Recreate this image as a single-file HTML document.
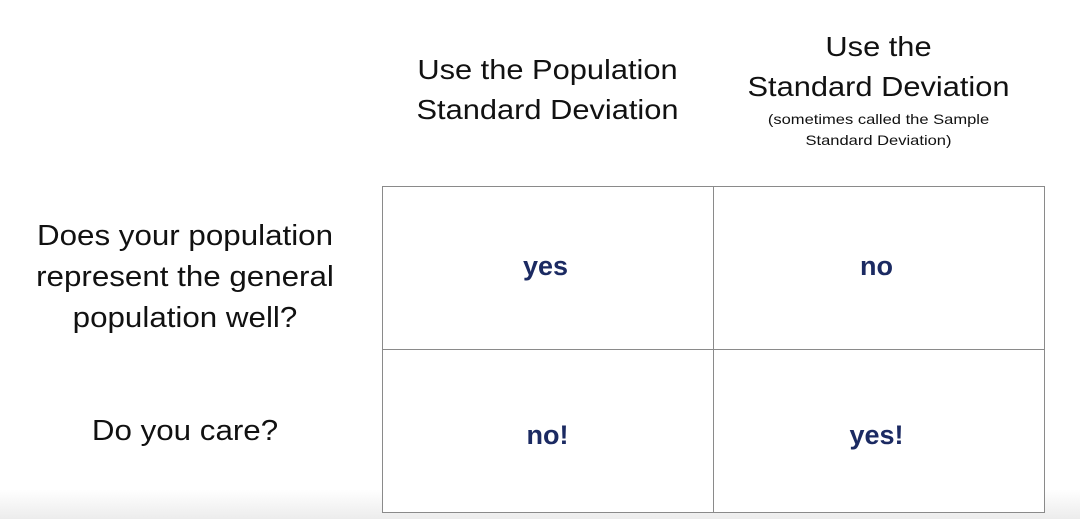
<!DOCTYPE html>
<html><head><meta charset="utf-8"><style>
body{margin:0;width:1080px;height:519px;background:#fff;position:relative;overflow:hidden;font-family:"Liberation Sans",sans-serif;color:#111}
.t{position:absolute;text-align:center;white-space:nowrap}
.h{font-size:28px;line-height:40px;transform:scaleX(1.1)}
.r{font-size:29px;line-height:41px;transform:scaleX(1.08)}
.v{font-size:27px;font-weight:bold;color:#1b2a62}
.ln{position:absolute;background:#8a8a8a}
</style></head><body>
<div style="position:absolute;left:0;top:490px;width:1080px;height:29px;background:linear-gradient(#fff,#ececec)"></div>
<div class="t h" style="left:382px;width:331px;top:50px">Use the Population<br>Standard Deviation</div>
<div class="t h" style="left:713px;width:331px;top:27px">Use the<br>Standard Deviation</div>
<div class="t" style="left:713px;width:331px;top:109px;font-size:14px;line-height:21px;transform:scaleX(1.18)">(sometimes called the Sample<br>Standard Deviation)</div>
<div class="t r" style="left:0;width:370px;top:216px">Does your population<br>represent the general<br>population well?</div>
<div class="t r" style="left:0;width:370px;top:411px">Do you care?</div>
<div style="position:absolute;left:382px;top:186px;width:661px;height:325px;border:1px solid #8a8a8a;background:#fff"></div>
<div class="ln" style="left:713px;top:186px;width:1px;height:327px"></div>
<div class="ln" style="left:382px;top:349px;width:663px;height:1px"></div>
<div class="t v" style="left:380px;width:331px;top:251px">yes</div>
<div class="t v" style="left:711px;width:331px;top:251px">no</div>
<div class="t v" style="left:382px;width:331px;top:420px">no!</div>
<div class="t v" style="left:711px;width:331px;top:420px">yes!</div>
</body></html>
